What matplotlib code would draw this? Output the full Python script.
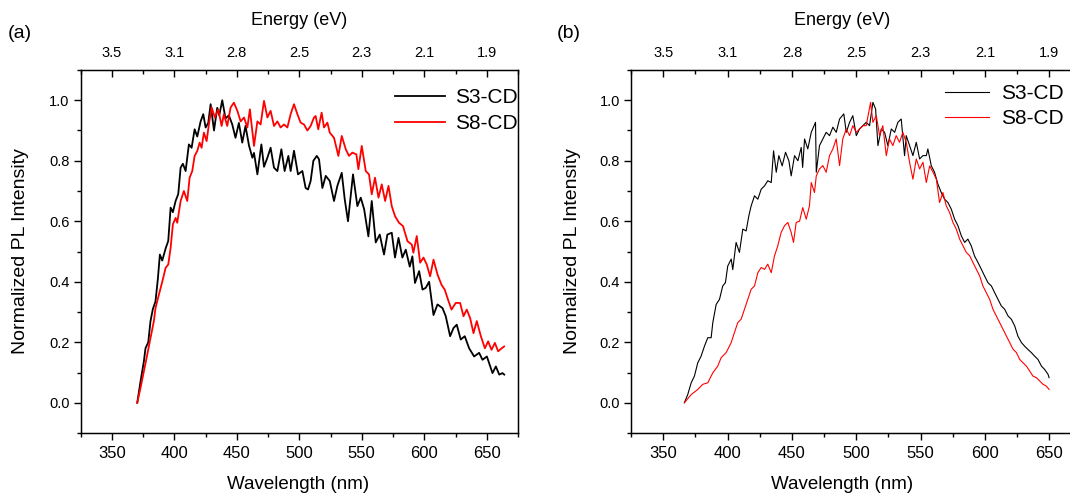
import matplotlib
matplotlib.use("Agg")
import matplotlib.pyplot as plt
from matplotlib.ticker import MultipleLocator

plt.rcParams["font.family"] = ["Liberation Sans", "DejaVu Sans"]

# ---- panel (a) ----
a_s3_wl = [370.4, 373.0, 375.7, 377.0, 379.2, 381.0, 382.9, 385.0, 386.9, 388.5,
           390.4, 393.1, 395.2, 397.1, 398.9, 401.1, 403.2, 405.1, 406.9, 409.1,
           411.7, 413.9, 416.3, 418.4, 421.1, 423.2, 425.1, 427.2, 429.1, 431.8,
           434.4, 436.0, 438.4, 441.0, 443.7, 446.4, 449.0, 451.7, 454.4, 457.0,
           459.8, 462.5, 463.8, 466.5, 469.7, 471.8, 474.5, 477.1, 479.8, 482.5,
           485.7, 488.3, 491.3, 493.1, 495.8, 499.0, 502.5, 505.1, 507.0, 509.1,
           511.3, 514.0, 515.8, 518.5, 521.2, 524.4, 527.8, 530.5, 534.0, 536.4,
           539.0, 543.0, 546.5, 549.2, 551.9, 555.3, 558.0, 561.2, 564.4, 567.8,
           570.5, 574.0, 576.6, 579.4, 582.5, 585.2, 588.4, 590.5, 592.6, 595.9,
           598.6, 601.2, 603.9, 607.4, 610.6, 614.6, 617.2, 620.7, 623.4, 626.0,
           629.2, 632.4, 635.9, 639.9, 643.9, 646.6, 650.1, 654.6, 657.3, 660.0,
           662.6, 664.0]
a_s3_pl = [0.0, 0.07, 0.137, 0.18, 0.20, 0.27, 0.31, 0.335, 0.41, 0.49,
           0.47, 0.51, 0.535, 0.645, 0.63, 0.667, 0.69, 0.777, 0.79, 0.766,
           0.854, 0.843, 0.904, 0.88, 0.93, 0.954, 0.91, 0.925, 0.987, 0.90,
           0.975, 0.95, 1.0, 0.94, 0.95, 0.92, 0.876, 0.925, 0.86, 0.915,
           0.85, 0.81, 0.826, 0.755, 0.854, 0.78, 0.81, 0.843, 0.777, 0.766,
           0.838, 0.766, 0.816, 0.766, 0.833, 0.755, 0.766, 0.71, 0.705, 0.733,
           0.80, 0.816, 0.805, 0.71, 0.75, 0.733, 0.667, 0.717, 0.76, 0.672,
           0.60, 0.755, 0.65, 0.678, 0.64, 0.55, 0.667, 0.53, 0.556, 0.49,
           0.556, 0.562, 0.48, 0.545, 0.48, 0.506, 0.45, 0.484, 0.396, 0.435,
           0.374, 0.38, 0.40, 0.29, 0.325, 0.313, 0.286, 0.22, 0.247, 0.258,
           0.209, 0.22, 0.18, 0.153, 0.165, 0.142, 0.153, 0.098, 0.12, 0.093,
           0.098, 0.093]

a_s8_wl = [370.4, 373.0, 375.7, 378.4, 381.0, 383.7, 385.0, 387.7, 390.4, 393.1,
           395.2, 397.1, 398.9, 401.1, 402.4, 405.1, 407.7, 410.4, 412.3, 414.4,
           416.3, 418.4, 420.3, 421.9, 423.7, 425.9, 427.7, 429.9, 432.5, 435.2,
           437.9, 439.7, 442.4, 445.1, 447.7, 450.5, 453.1, 455.8, 458.5, 460.5,
           463.8, 466.5, 469.1, 471.8, 474.5, 477.1, 479.8, 482.5, 485.1, 487.8,
           490.5, 493.1, 495.8, 498.5, 501.1, 503.8, 506.5, 509.1, 511.8, 513.1,
           515.2, 517.9, 519.8, 522.5, 524.4, 527.8, 531.3, 534.0, 537.2, 539.8,
           542.5, 545.7, 547.3, 550.0, 553.2, 555.8, 558.0, 560.6, 563.4, 566.0,
           568.7, 571.4, 574.0, 576.6, 579.8, 583.0, 586.6, 590.0, 591.3, 594.0,
           596.7, 599.4, 602.0, 604.7, 607.4, 610.6, 613.8, 616.4, 619.0, 621.8,
           625.2, 628.7, 631.4, 634.0, 636.7, 639.4, 642.0, 645.3, 648.5, 651.1,
           653.8, 656.5, 659.1, 661.9, 663.9]
a_s8_pl = [0.0, 0.049, 0.104, 0.159, 0.214, 0.27, 0.313, 0.357, 0.40, 0.446,
           0.457, 0.512, 0.59, 0.611, 0.595, 0.667, 0.70, 0.667, 0.744, 0.766,
           0.816, 0.832, 0.86, 0.843, 0.893, 0.865, 0.92, 0.976, 0.943, 0.97,
           0.915, 0.954, 0.915, 0.976, 0.992, 0.965, 0.93, 0.943, 0.91, 0.97,
           0.849, 0.93, 0.92, 0.998, 0.943, 0.965, 0.915, 0.93, 0.91, 0.92,
           0.91, 0.954, 0.987, 0.954, 0.926, 0.92, 0.90, 0.915, 0.943, 0.948,
           0.904, 0.959, 0.91, 0.926, 0.893, 0.876, 0.816, 0.882, 0.838, 0.816,
           0.827, 0.821, 0.772, 0.849, 0.766, 0.755, 0.689, 0.744, 0.678, 0.722,
           0.667, 0.717, 0.65, 0.617, 0.595, 0.584, 0.534, 0.523, 0.496, 0.551,
           0.463, 0.48, 0.457, 0.418, 0.473, 0.424, 0.39, 0.374, 0.341, 0.308,
           0.33, 0.33, 0.286, 0.308, 0.28, 0.23, 0.27, 0.22, 0.18, 0.203,
           0.175, 0.198, 0.17, 0.18, 0.186]

# ---- panel (b) ----
b_s3_wl = [366.4, 369.0, 371.7, 374.2, 376.8, 379.4, 382.0, 384.6, 387.2, 388.5,
           391.1, 393.7, 396.2, 398.3, 400.1, 402.8, 404.0, 406.6, 409.2, 411.8,
           414.4, 416.5, 418.3, 420.9, 423.5, 426.1, 428.7, 431.2, 433.9, 435.7,
           437.8, 439.8, 442.4, 445.0, 447.6, 449.4, 452.0, 454.6, 457.2, 458.3,
           459.8, 462.3, 465.0, 468.3, 468.9, 471.4, 474.0, 476.6, 479.2, 481.8,
           484.4, 487.0, 490.3, 492.2, 494.8, 497.3, 500.0, 502.5, 505.1, 507.7,
           510.3, 512.9, 515.0, 516.8, 519.4, 522.0, 524.5, 527.2, 529.8, 532.3,
           534.9, 537.5, 538.8, 541.4, 544.0, 546.6, 549.2, 551.8, 554.4, 555.6,
           558.3, 560.8, 563.4, 566.0, 568.6, 571.2, 573.8, 576.4, 579.0, 581.6,
           584.2, 586.7, 589.3, 591.9, 594.5, 597.2, 599.7, 602.3, 605.0, 607.5,
           610.1, 612.7, 615.3, 617.9, 620.5, 623.1, 625.6, 628.3, 630.8, 633.4,
           636.0, 638.6, 641.2, 643.9, 646.4, 649.0, 649.8]
b_s3_pl = [0.0, 0.027, 0.066, 0.088, 0.132, 0.154, 0.187, 0.215, 0.215, 0.265,
           0.325, 0.342, 0.386, 0.397, 0.452, 0.475, 0.44, 0.53, 0.497, 0.574,
           0.568, 0.618, 0.651, 0.684, 0.673, 0.706, 0.717, 0.734, 0.728, 0.833,
           0.762, 0.817, 0.783, 0.828, 0.80, 0.75, 0.817, 0.80, 0.844, 0.778,
           0.872, 0.839, 0.894, 0.927, 0.762, 0.85, 0.872, 0.894, 0.883, 0.911,
           0.894, 0.938, 0.955, 0.894, 0.927, 0.949, 0.883, 0.905, 0.916, 0.927,
           0.916, 0.993, 0.971, 0.85, 0.905, 0.894, 0.85, 0.905, 0.894, 0.927,
           0.938, 0.817, 0.883, 0.85, 0.817, 0.861, 0.806, 0.817, 0.817, 0.839,
           0.783, 0.762, 0.723, 0.695, 0.673, 0.662, 0.64, 0.607, 0.585, 0.552,
           0.53, 0.541, 0.519, 0.485, 0.464, 0.441, 0.419, 0.397, 0.386, 0.364,
           0.342, 0.32, 0.309, 0.287, 0.276, 0.254, 0.22, 0.199, 0.187, 0.176,
           0.166, 0.154, 0.143, 0.121, 0.11, 0.094, 0.083]

b_s8_wl = [366.4, 371.7, 376.8, 380.7, 384.6, 388.5, 392.3, 395.0, 398.9, 402.8,
           405.3, 407.9, 410.5, 413.1, 415.7, 418.3, 420.9, 423.5, 426.1, 428.7,
           431.2, 433.9, 436.4, 439.0, 441.6, 444.2, 446.8, 449.4, 451.2, 453.3,
           455.9, 458.4, 461.1, 463.6, 465.0, 467.5, 468.9, 471.4, 474.0, 476.6,
           479.2, 481.8, 484.4, 487.0, 489.5, 492.2, 494.8, 497.3, 500.0, 502.5,
           505.1, 507.7, 511.1, 512.9, 515.5, 518.1, 520.6, 523.3, 525.8, 528.4,
           531.0, 533.6, 536.2, 538.8, 541.4, 544.0, 546.6, 549.2, 551.8, 554.4,
           557.0, 559.6, 562.2, 564.7, 567.3, 569.9, 572.5, 575.1, 577.7, 580.3,
           582.9, 585.5, 588.1, 590.6, 593.3, 595.9, 598.4, 601.0, 603.6, 606.2,
           608.8, 611.4, 614.0, 616.6, 619.2, 621.8, 624.4, 627.0, 629.6, 632.2,
           634.7, 637.3, 639.9, 642.5, 645.1, 647.7, 649.8]
b_s8_pl = [0.0, 0.027, 0.044, 0.061, 0.066, 0.099, 0.121, 0.149, 0.166, 0.199,
           0.232, 0.265, 0.276, 0.309, 0.342, 0.375, 0.386, 0.43, 0.447, 0.441,
           0.458, 0.43, 0.485, 0.519, 0.563, 0.585, 0.596, 0.563, 0.53, 0.596,
           0.60, 0.645, 0.607, 0.651, 0.728, 0.695, 0.75, 0.773, 0.784, 0.762,
           0.817, 0.839, 0.872, 0.784, 0.872, 0.905, 0.883, 0.916, 0.894, 0.905,
           0.916, 0.916, 0.993, 0.927, 0.949, 0.883, 0.916, 0.817, 0.872, 0.85,
           0.883, 0.861, 0.894, 0.861, 0.795, 0.739, 0.806, 0.773, 0.795, 0.728,
           0.783, 0.762, 0.739, 0.662, 0.695, 0.651, 0.629, 0.596, 0.574, 0.541,
           0.519, 0.497, 0.486, 0.464, 0.441, 0.419, 0.386, 0.364, 0.342, 0.309,
           0.287, 0.265, 0.243, 0.221, 0.199, 0.177, 0.166, 0.143, 0.132, 0.121,
           0.105, 0.088, 0.083, 0.072, 0.061, 0.055, 0.044]

wl_ticks = [350, 400, 450, 500, 550, 600, 650]
energy_labels = ["3.5", "3.1", "2.8", "2.5", "2.3", "2.1", "1.9"]


def style_axes(ax):
    ax.set_xlim(325, 675)
    ax.set_ylim(-0.1, 1.1)
    ax.set_xticks(wl_ticks)
    ax.xaxis.set_minor_locator(MultipleLocator(25))
    ax.set_yticks([0.0, 0.2, 0.4, 0.6, 0.8, 1.0])
    ax.yaxis.set_minor_locator(MultipleLocator(0.1))
    ax.yaxis.set_major_formatter(plt.FormatStrFormatter("%.1f"))
    for s in ax.spines.values():
        s.set_linewidth(1.0)
    ax.tick_params(which="major", direction="out", length=5, width=1.0)
    ax.tick_params(which="minor", direction="out", length=3, width=1.0)
    ax.tick_params(axis="x", labelsize=12, pad=4)
    ax.tick_params(axis="y", labelsize=10.5, pad=3)

    top = ax.twiny()
    top.set_xlim(ax.get_xlim())
    top.set_xticks(wl_ticks)
    top.set_xticklabels(energy_labels)
    top.xaxis.set_minor_locator(MultipleLocator(25))
    top.tick_params(which="major", direction="in", length=5, width=1.0,
                    labelsize=10.5, pad=7)
    top.tick_params(which="minor", direction="in", length=3, width=1.0)
    return top


fig = plt.figure(figsize=(10.7, 4.95), dpi=100)

ax1 = fig.add_axes([80.5 / 1070, 1 - 433 / 495, 437.5 / 1070, 363 / 495])
ax1.plot(a_s3_wl, a_s3_pl, color="black", lw=1.3, label="S3-CD")
ax1.plot(a_s8_wl, a_s8_pl, color="red", lw=1.3, label="S8-CD")
top1 = style_axes(ax1)
ax1.set_xlabel("Wavelength (nm)", fontsize=13.5)
ax1.xaxis.set_label_coords(0.497, -0.118)
ax1.set_ylabel("Normalized PL Intensity", fontsize=14)
ax1.yaxis.set_label_coords(-0.118, 0.5)
top1.set_xlabel("Energy (eV)", fontsize=13)
top1.xaxis.set_label_coords(0.5, 1.125)
ax1.legend(loc="upper left", bbox_to_anchor=(0.719, 0.95), frameon=False,
           fontsize=15, handlelength=2.4, borderpad=0, borderaxespad=0,
           labelspacing=0.32, handletextpad=0.5)

ax2 = fig.add_axes([631.1 / 1070, 1 - 433 / 495, 450.4 / 1070, 363 / 495])
ax2.plot(b_s3_wl, b_s3_pl, color="black", lw=0.8, label="S3-CD")
ax2.plot(b_s8_wl, b_s8_pl, color="red", lw=0.8, label="S8-CD")
top2 = style_axes(ax2)
ax2.set_xlabel("Wavelength (nm)", fontsize=13.5)
ax2.xaxis.set_label_coords(0.469, -0.118)
ax2.set_ylabel("Normalized PL Intensity", fontsize=14)
ax2.yaxis.set_label_coords(-0.111, 0.5)
top2.set_xlabel("Energy (eV)", fontsize=13)
top2.xaxis.set_label_coords(0.469, 1.125)
ax2.legend(loc="upper left", bbox_to_anchor=(0.698, 0.962), frameon=False,
           fontsize=15, handlelength=2.1, borderpad=0, borderaxespad=0,
           labelspacing=0.32, handletextpad=0.55)

fig.text(8 / 1070, 1 - 33 / 495, "(a)", fontsize=14, ha="left", va="center")
fig.text(557 / 1070, 1 - 33 / 495, "(b)", fontsize=14, ha="left", va="center")

fig.savefig("out.png", dpi=100)
